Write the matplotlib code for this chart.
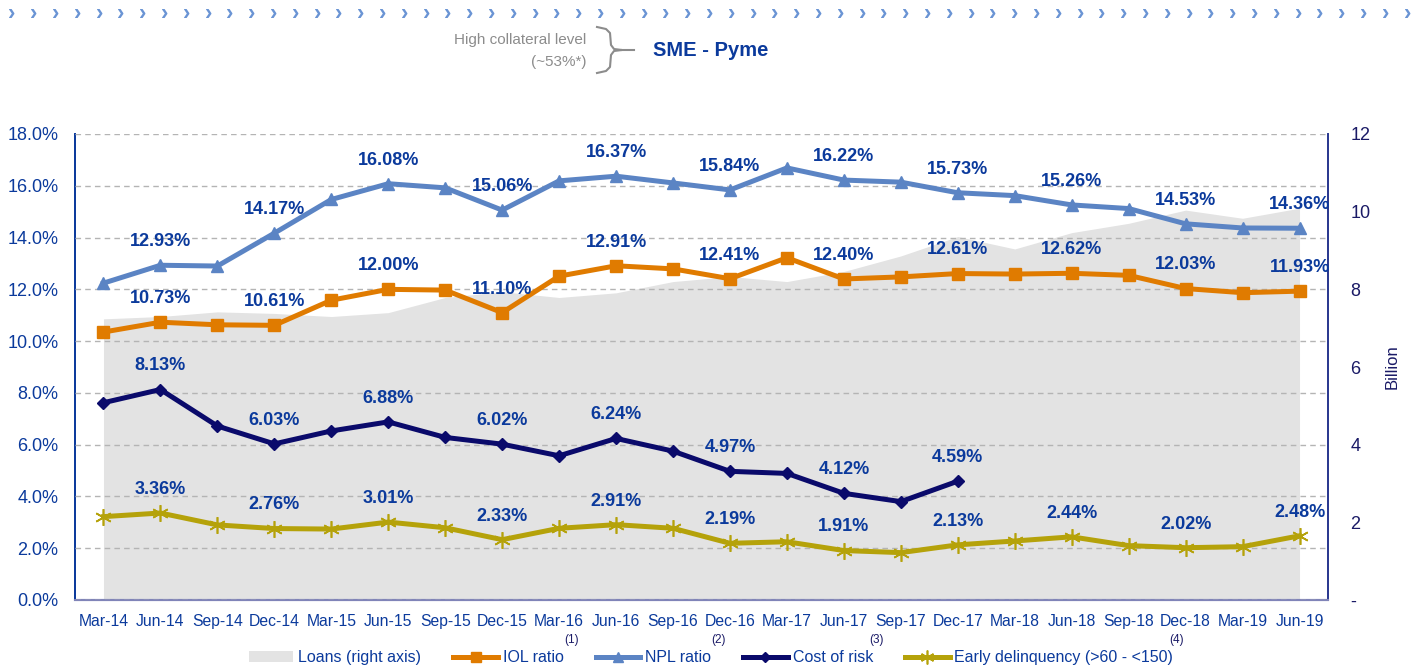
import matplotlib
matplotlib.use("Agg")
import matplotlib.pyplot as plt
from matplotlib.lines import Line2D
from matplotlib.patches import Patch
from matplotlib.ticker import FuncFormatter

plt.rcParams['font.family'] = ['Liberation Sans', 'DejaVu Sans']

quarters = ["Mar-14", "Jun-14", "Sep-14", "Dec-14", "Mar-15", "Jun-15", "Sep-15", "Dec-15",
            "Mar-16", "Jun-16", "Sep-16", "Dec-16", "Mar-17", "Jun-17", "Sep-17", "Dec-17",
            "Mar-18", "Jun-18", "Sep-18", "Dec-18", "Mar-19", "Jun-19"]

loans = [7.24, 7.30, 7.42, 7.38, 7.30, 7.40, 7.79, 7.94, 7.79, 7.91, 8.20, 8.33,
         8.20, 8.46, 8.86, 9.36, 9.04, 9.46, 9.70, 10.04, 9.83, 10.09]

iol = [10.35, 10.73, 10.63, 10.61, 11.58, 12.00, 11.97, 11.10, 12.51, 12.91, 12.79, 12.41,
       13.22, 12.40, 12.48, 12.61, 12.59, 12.62, 12.54, 12.03, 11.87, 11.93]

npl = [12.24, 12.93, 12.90, 14.17, 15.47, 16.08, 15.92, 15.06, 16.19, 16.37, 16.11, 15.84,
       16.69, 16.22, 16.14, 15.73, 15.62, 15.26, 15.12, 14.53, 14.37, 14.36]

cost_of_risk = [7.62, 8.13, 6.72, 6.03, 6.53, 6.88, 6.28, 6.02, 5.57, 6.24, 5.75, 4.97,
                4.89, 4.12, 3.80, 4.59]

early_delinq = [3.22, 3.36, 2.90, 2.76, 2.74, 3.01, 2.79, 2.33, 2.77, 2.91, 2.77, 2.19,
                2.25, 1.91, 1.83, 2.13, 2.28, 2.44, 2.10, 2.02, 2.06, 2.48]

BLUE_TXT = '#0B3A9C'
NAVY = '#1A1A66'
C_IOL = '#E07B00'
C_NPL = '#5B84C4'
C_COR = '#0A0A6B'
C_ED = '#B5A20A'
C_AREA = '#E3E3E3'
STAR = (6, 2, 0)

fig = plt.figure(figsize=(14.22, 6.72), dpi=100)
ax = fig.add_axes([75 / 1422, 72 / 672, 1253 / 1422, 466 / 672])
ax2 = ax.twinx()
ax.set_zorder(ax2.get_zorder() + 1)
ax.patch.set_visible(False)

x = list(range(len(quarters)))

# loans area on the right axis
ax2.fill_between(x, 0, loans, color=C_AREA, linewidth=0)
ax2.set_ylim(0, 12)
ax2.set_yticks(range(0, 13, 2))
ax2.yaxis.set_major_formatter(FuncFormatter(lambda v, p: "-" if v == 0 else f"{v:.0f}"))
ax2.tick_params(axis='y', length=0, pad=16, labelsize=13, labelcolor=NAVY)
ax2.set_ylabel("Billion", color=NAVY, fontsize=12, labelpad=10)

series = [
    (iol, C_IOL, 's', 8.5),
    (npl, C_NPL, '^', 9),
    (cost_of_risk, C_COR, 'D', 6.5),
    (early_delinq, C_ED, STAR, 12),
]
for vals, col, mk, ms in series:
    xs = x[:len(vals)]
    ax.plot(xs, vals, color=col, lw=3.6, marker=mk, markersize=ms,
            markeredgecolor=col, markerfacecolor=col,
            markeredgewidth=1.2 if mk == STAR else 1.0,
            solid_joinstyle='round', zorder=3)
    for i, v in zip(xs, vals):
        if i % 2 == 1:
            ax.annotate(f"{v:.2f}%", (i, v), xytext=(0, 17), textcoords='offset points',
                        ha='center', va='center', fontsize=13, fontweight='bold',
                        color=BLUE_TXT, zorder=5)

ax.set_xlim(-0.5, len(quarters) - 0.5)
ax.set_ylim(0, 18)
ax.set_yticks(range(0, 19, 2))
ax.yaxis.set_major_formatter(FuncFormatter(lambda v, p: f"{v:.1f}%"))
ax.set_xticks(x)
ax.set_xticklabels(quarters)
ax.tick_params(axis='y', length=0, pad=12, labelsize=13, labelcolor=BLUE_TXT)
ax.tick_params(axis='x', length=0, pad=10, labelsize=11.3, labelcolor=BLUE_TXT)
ax.yaxis.grid(True, linestyle=(0, (4, 3)), color='#B4B4B4', linewidth=1)
ax.set_axisbelow(False)

for a in (ax, ax2):
    a.spines['top'].set_visible(False)
    a.spines['left'].set_color(BLUE_TXT)
    a.spines['right'].set_color('#2B3990')
    a.spines['bottom'].set_color('#8084B8')
    a.spines['left'].set_linewidth(1.3)
    a.spines['right'].set_linewidth(1.3)
    a.spines['bottom'].set_linewidth(1.5)

# legend
handles = [
    Patch(facecolor=C_AREA, edgecolor='none', label="Loans (right axis)"),
    Line2D([], [], color=C_IOL, lw=3.6, marker='s', markersize=7, label="IOL ratio"),
    Line2D([], [], color=C_NPL, lw=3.6, marker='^', markersize=7, label="NPL ratio"),
    Line2D([], [], color=C_COR, lw=3.6, marker='D', markersize=5.5, label="Cost of risk"),
    Line2D([], [], color=C_ED, lw=3.6, marker=STAR, markersize=10, markeredgewidth=1.2,
           label="Early delinquency (>60 - <150)"),
]
leg = fig.legend(handles=handles, loc='center', bbox_to_anchor=(0.5, 0.021), ncol=5,
                 frameon=False, fontsize=11.5, handlelength=2.8, handletextpad=0.3,
                 columnspacing=2.0)
for t in leg.get_texts():
    t.set_color(BLUE_TXT)

for label, px in [("(1)", 572), ("(2)", 718), ("(3)", 876), ("(4)", 1177)]:
    fig.text(px / 1422, 1 - 640 / 672, label, ha='center', va='center', fontsize=8.5, color=NAVY)

# header chevrons
for k in range(65):
    fig.text((12 + k * 21.8) / 1422, 1 - 14 / 672, "\u203a", ha='center', va='center',
             fontsize=16, fontweight='bold', color='#6A94D4')
fig.text(586 / 1422, 1 - 40 / 672, "High collateral level", ha='right', va='center',
         fontsize=11, color='#8C8C8C')
fig.text(586 / 1422, 1 - 62 / 672, "(~53%*)", ha='right', va='center',
         fontsize=11, color='#8C8C8C')
bx = [597, 606, 610, 611, 614, 622, 614, 611, 610, 606, 597]
by = [27, 29, 33, 45, 49, 50, 51, 55, 67, 71, 73]
fig.add_artist(Line2D([v / 1422 for v in bx], [1 - v / 672 for v in by],
                      transform=fig.transFigure, color='#8C8C8C', lw=1.5))
fig.add_artist(Line2D([622 / 1422, 634 / 1422], [1 - 50 / 672, 1 - 50 / 672],
                      transform=fig.transFigure, color='#8C8C8C', lw=1.5))
fig.text(653 / 1422, 1 - 51 / 672, "SME - Pyme", ha='left', va='center',
         fontsize=14.5, fontweight='bold', color=BLUE_TXT)

fig.savefig("out.png", dpi=100)
